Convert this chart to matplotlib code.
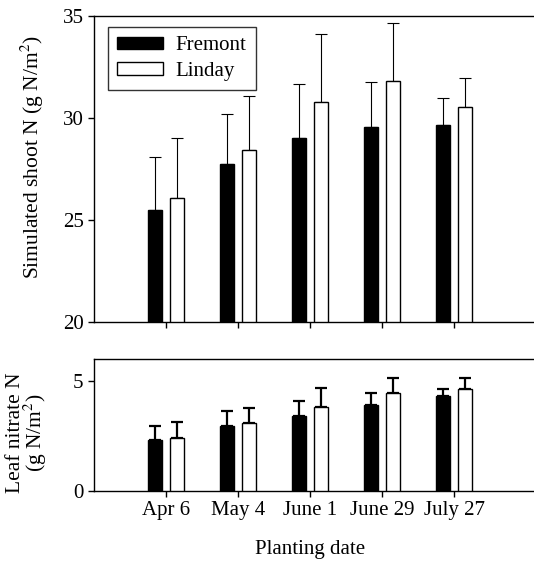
import numpy as np
import matplotlib
matplotlib.use("Agg")
import matplotlib.pyplot as plt

plt.rcParams['font.family'] = ['Liberation Serif', 'DejaVu Serif']
plt.rcParams['mathtext.fontset'] = 'stix'

dates = ["Apr 6", "May 4", "June 1", "June 29", "July 27"]

# simulated shoot N (g N/m2)
shoot_fremont = [25.5, 27.75, 29.03, 29.56, 29.64]
shoot_fremont_top = [28.07, 30.18, 31.65, 31.76, 31.0]
shoot_linday = [26.1, 28.45, 30.78, 31.8, 30.52]
shoot_linday_top = [29.03, 31.06, 34.13, 34.67, 31.94]

# leaf nitrate N (g N/m2)
leaf_fremont = [2.30, 2.94, 3.40, 3.90, 4.30]
leaf_fremont_top = [2.95, 3.63, 4.08, 4.44, 4.62]
leaf_linday = [2.41, 3.09, 3.82, 4.46, 4.64]
leaf_linday_top = [3.12, 3.78, 4.67, 5.12, 5.12]


def draw_bars(ax, f, f_top, l, l_top, base, lw_err):
    x = np.arange(len(dates))
    w = 0.19
    f = np.array(f)
    l = np.array(l)
    ax.bar(x - 0.15, f - base, w, bottom=base, color="black", edgecolor="black",
           linewidth=1, label="Fremont", zorder=3)
    ax.bar(x + 0.15, l - base, w, bottom=base, color="white", edgecolor="black",
           linewidth=1, label="Linday", zorder=3)
    ax.errorbar(x - 0.15, f, yerr=[np.zeros_like(f), np.array(f_top) - f], fmt="none",
                ecolor="black", elinewidth=lw_err, capsize=4, capthick=lw_err, zorder=2)
    ax.errorbar(x + 0.15, l, yerr=[np.zeros_like(l), np.array(l_top) - l], fmt="none",
                ecolor="black", elinewidth=lw_err, capsize=4, capthick=lw_err, zorder=2)
    ax.set_xticks(x)
    ax.set_xlim(-1, 5.11)
    ax.spines["right"].set_visible(False)
    for s in ["left", "bottom", "top"]:
        ax.spines[s].set_linewidth(1)
    ax.tick_params(direction="out", length=4, width=1, labelsize=15)


fig = plt.figure(figsize=(5.34, 5.61), dpi=100)
ax1 = fig.add_axes([0.176, 0.426, 0.824, 0.5455])
ax2 = fig.add_axes([0.176, 0.1248, 0.824, 0.2353])

draw_bars(ax1, shoot_fremont, shoot_fremont_top, shoot_linday, shoot_linday_top, 20, 0.8)
ax1.set_ylim(20, 35)
ax1.set_yticks([20, 25, 30, 35])
ax1.set_xticklabels([])
ax1.set_ylabel("Simulated shoot N (g N/m$^2$)", fontsize=15.5, va="center")
ax1.yaxis.set_label_coords(-0.139, 0.54)
ax1.legend(loc="upper left", bbox_to_anchor=(0.032, 0.964), borderaxespad=0, fontsize=15,
           frameon=True, fancybox=False, edgecolor="black", handlelength=2.2,
           handleheight=0.55, borderpad=0.45, labelspacing=0.3, handletextpad=0.6)
ax1.get_legend().get_frame().set_linewidth(1)

draw_bars(ax2, leaf_fremont, leaf_fremont_top, leaf_linday, leaf_linday_top, 0, 1.6)
ax2.set_ylim(0, 6)
ax2.set_yticks([0, 5])
ax2.set_xticklabels(dates)
ax2.set_ylabel("Leaf nitrate N\n(g N/m$^2$)", fontsize=15.5, linespacing=0.85, va="center")
ax2.yaxis.set_label_coords(-0.152, 0.44)
ax2.set_xlabel("Planting date", fontsize=15, va="center")
ax2.xaxis.set_label_coords(0.49, -0.44)

fig.savefig("out.png", dpi=100)
